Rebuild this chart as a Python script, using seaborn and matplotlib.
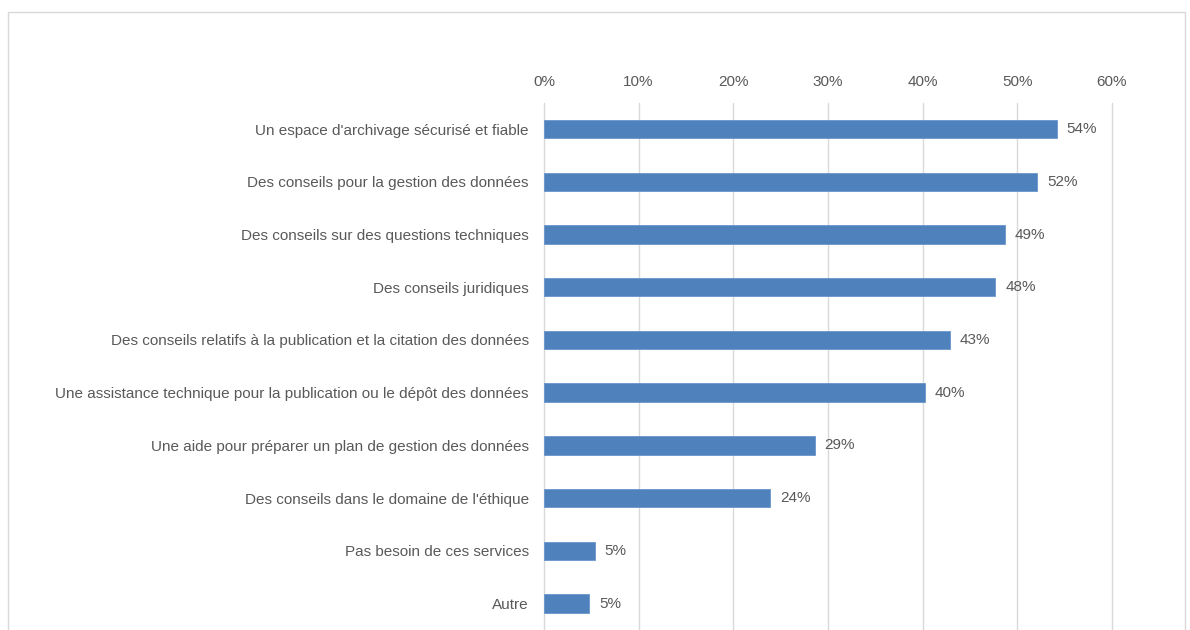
import matplotlib
matplotlib.use("Agg")
import matplotlib.pyplot as plt
import seaborn as sns
import pandas as pd
from matplotlib.patches import Rectangle
from matplotlib.ticker import PercentFormatter

categories = [
    "Un espace d'archivage sécurisé et fiable",
    "Des conseils pour la gestion des données",
    "Des conseils sur des questions techniques",
    "Des conseils juridiques",
    "Des conseils relatifs à la publication et la citation des données",
    "Une assistance technique pour la publication ou le dépôt des données",
    "Une aide pour préparer un plan de gestion des données",
    "Des conseils dans le domaine de l'éthique",
    "Pas besoin de ces services",
    "Autre",
]
values = [54.2, 52.1, 48.7, 47.7, 42.9, 40.2, 28.6, 23.9, 5.4, 4.8]
labels = ["54%", "52%", "49%", "48%", "43%", "40%", "29%", "24%", "5%", "5%"]
xticks = [0, 10, 20, 30, 40, 50, 60]

df = pd.DataFrame({"cat": categories, "val": values})

sns.set_theme(style="white")
plt.rcParams["font.family"] = ["Liberation Sans", "DejaVu Sans"]

fig = plt.figure(figsize=(11.9, 6.3), dpi=100)
ax = fig.add_axes([0.4571, 0.0, 0.4773, 0.837])

sns.barplot(data=df, x="val", y="cat", orient="h", color="#4F81BD",
            width=0.35, saturation=1, ax=ax, edgecolor="#6A96CC", linewidth=0.6)

ax.set_xlim(0, 60)
ax.set_ylim(9.5, -0.5)
ax.set_xticks(xticks)
ax.xaxis.set_major_formatter(PercentFormatter(decimals=0))
ax.xaxis.tick_top()
ax.tick_params(axis="x", length=0, pad=10, labelsize=11, labelcolor="#595959")
ax.tick_params(axis="y", length=0, pad=11, labelsize=11, labelcolor="#595959")
ax.set_xlabel("")
ax.set_ylabel("")
ax.grid(axis="x", color="#D9D9D9", linewidth=1)
for gl in ax.get_xgridlines():
    gl.set_clip_on(False)
ax.set_axisbelow(True)
for s in ax.spines.values():
    s.set_visible(False)

for i, (v, lab) in enumerate(zip(values, labels)):
    ax.annotate(lab, xy=(v, i), xytext=(7, 0), textcoords="offset points",
                ha="left", va="center", fontsize=11, color="#595959")

rect = Rectangle((8 / 1190, -0.05), (1185 - 8) / 1190, 1.05 - 12 / 630,
                 transform=fig.transFigure, fill=False, edgecolor="#D9D9D9",
                 linewidth=1, clip_on=False)
fig.patches.append(rect)

fig.savefig("out.png", dpi=100)
